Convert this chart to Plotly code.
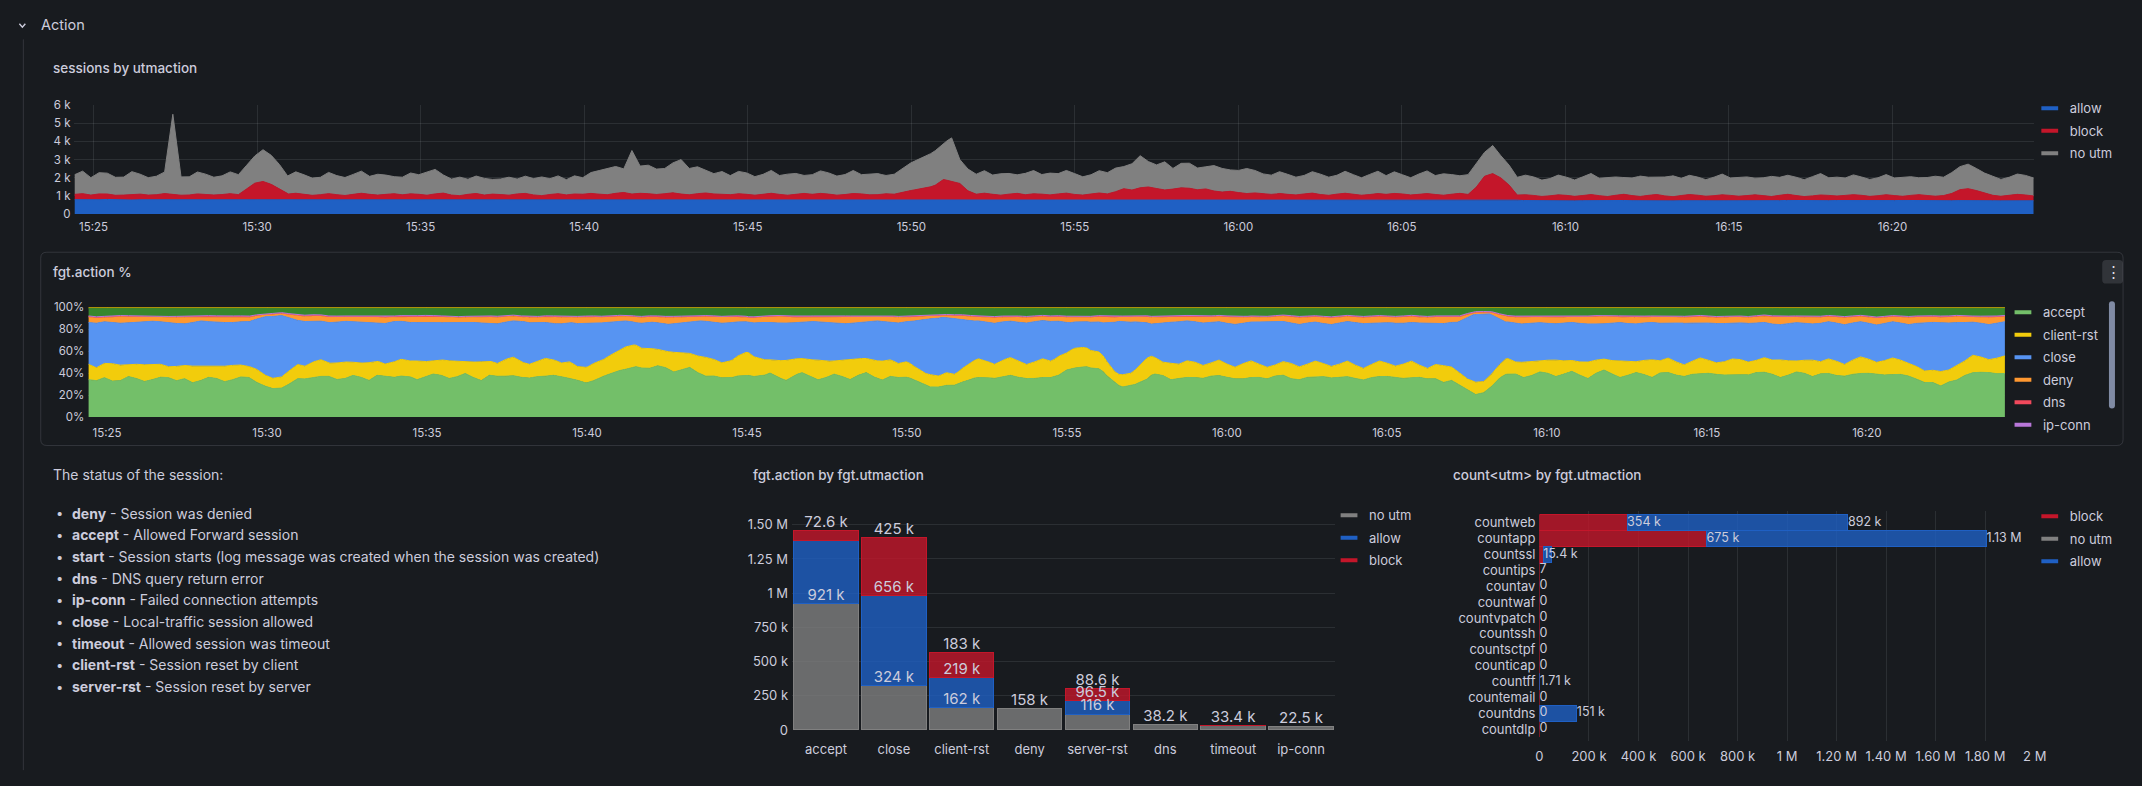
import numpy as np
import pandas as pd
import plotly.graph_objects as go

W, H = 2142, 786
BG = "#181b1f"
TXT = "#ccccdc"
GRID = "rgba(240,250,255,0.09)"
FONT = "Inter"

# ---------------- data: sessions by utmaction (counts) ----------------
t_start, t_end = "2024-05-14 15:24:25", "2024-05-14 16:24:19"
allow = [
    790, 770, 800, 760, 785, 775, 795, 770, 780, 790,
    765, 800, 780, 775, 790, 760, 785, 770, 795, 780,
    770, 790, 775, 760, 785, 770, 780, 795, 765, 780,
    775, 790, 770, 800, 785, 765, 790, 775, 780, 795,
    770, 785, 760, 790, 775, 800, 780, 770, 790, 765,
    785, 790, 780, 800, 775, 770, 790, 780, 765, 795,
    780, 775, 790, 770, 800, 790, 780, 795, 770, 785,
    790, 775, 780, 765, 790, 780, 775, 795, 770, 785,
    780, 790, 770, 785, 775, 780, 770, 800, 740, 725,
    735, 720, 740, 730, 745, 725, 735, 720, 740, 730,
    725, 740, 735, 720, 745, 730, 725, 740, 735, 720,
    730, 745, 725, 740, 730, 745, 735, 725, 740, 730]
block = [
    290, 340, 270, 320, 300, 250, 280, 330, 310, 260, 285, 340, 300, 250, 275, 330, 295, 260, 280, 340,
    300, 600, 900, 1000, 850, 600, 320, 360, 290, 250, 300, 350, 280, 240, 310, 360, 290, 250, 300, 340,
    285, 330, 295, 250, 330, 380, 280, 240, 300, 350, 270, 320, 290, 250, 310, 350, 280, 240, 295, 340,
    275, 320, 300, 350, 320, 280, 340, 390, 310, 360, 350, 300, 330, 380, 320, 280, 340, 370, 310, 270,
    290, 340, 300, 260, 320, 370, 295, 250, 305, 350, 290, 340, 310, 260, 300, 350, 320, 270, 295, 340,
    310, 420, 500, 580, 650, 800, 1100, 1000, 900, 500, 320, 370, 300, 250, 310, 360, 290, 340, 305, 260,
    320, 370, 300, 260, 315, 370, 330, 450, 600, 520, 650, 700, 620, 540, 580, 650, 640, 560, 600, 480,
    420, 460, 400, 350, 380, 330, 310, 360, 300, 260, 320, 370, 295, 250, 305, 350, 310, 260, 290, 340,
    300, 350, 315, 260, 305, 350, 295, 250, 310, 360, 300, 700, 1300, 1450, 1200, 800, 280, 320, 290, 240,
    270, 320, 300, 250, 285, 330, 275, 230, 290, 340, 280, 240, 295, 340, 270, 230, 285, 330, 300, 250,
    280, 330, 290, 240, 275, 320, 285, 240, 295, 340, 280, 230, 270, 320, 290, 250, 285, 330, 300, 250,
    280, 330, 275, 230, 290, 340, 285, 240, 280, 400, 600, 650, 550, 420, 300, 250, 290, 340, 310, 260]
no_utm = [
    1080, 1240, 960, 1170, 1150, 990, 990, 1230, 1100, 960, 1020, 1190, 4400, 1010, 1000, 1210, 1120, 980, 1030, 1200,
    1100, 1300, 1500, 1750, 1600, 1350, 1000, 1180, 1080, 950, 960, 1170, 1050, 990, 1100, 1220, 990, 1150, 1060, 940,
    970, 1150, 1080, 1260, 1350, 1000, 880, 1020, 830, 960, 920, 810, 860, 990, 820, 950, 900, 1030, 870, 980,
    840, 1000, 910, 1150, 1300, 1450, 1480, 1300, 2400, 1500, 1570, 1400, 1390, 1650, 1900, 1450, 1480, 1250, 1120, 1280,
    1050, 1230, 1180, 1020, 1100, 1260, 1040, 1160, 1150, 990, 1080, 1240, 1170, 1050, 1100, 1270, 1060, 1120, 1160, 1010,
    1100, 1300, 1520, 1650, 1770, 1900, 2000, 2400, 1320, 1200, 1100, 1240, 1060, 1180, 1140, 1020, 1180, 1280, 1080, 1200,
    1120, 1250, 1150, 1010, 1060, 1230, 1170, 1300, 1220, 1450, 1770, 1400, 1300, 1550, 1140, 1350, 1380, 1200, 1220, 1400,
    1300, 1180, 1220, 1380, 1240, 1100, 1060, 1200, 1100, 980, 1020, 1180, 1120, 1000, 1040, 1210, 1080, 960, 1110, 1230,
    1030, 1190, 1060, 950, 1120, 1250, 1040, 1180, 1080, 970, 1090, 1300, 1320, 1550, 1220, 1100, 980, 1080, 1020, 900,
    950, 1090, 1000, 900, 1030, 1160, 960, 1060, 1010, 920, 970, 1120, 1000, 940, 1040, 1150, 950, 1060, 1000, 910,
    1020, 1140, 960, 1050, 1030, 920, 980, 1110, 990, 1050, 1010, 930, 1060, 1180, 970, 1040, 960, 1090, 1010, 930,
    990, 1110, 970, 1040, 1030, 930, 990, 1100, 1010, 1150, 1270, 1350, 1220, 1100, 1050, 930, 1000, 1120, 1080, 990]
y1_ticks = [0, 1000, 2000, 3000, 4000, 5000, 6000]
y1_text = ["0", "1 k", "2 k", "3 k", "4 k", "5 k", "6 k"]

# ---------------- data: fgt.action % (shares) ----------------
accept = [
    34, 31, 36, 33, 33, 37, 35, 32, 34, 37, 36, 33, 35, 31, 33, 36, 35, 32, 34, 37,
    36, 32, 28, 25, 26, 30, 35, 33, 36, 39, 37, 34, 35, 38, 36, 33, 38, 35, 36, 39,
    37, 34, 36, 39, 38, 35, 37, 40, 36, 33, 38, 35, 37, 40, 36, 34, 37, 39, 38, 35,
    35, 32, 31, 34, 37, 40, 42, 45, 46, 42, 44, 47, 45, 41, 43, 46, 40, 37, 37, 34,
    36, 39, 38, 35, 37, 40, 36, 33, 38, 41, 37, 34, 36, 39, 37, 34, 38, 41, 36, 33,
    37, 34, 36, 33, 30, 27, 27, 30, 29, 33, 35, 38, 36, 33, 37, 40, 36, 33, 35, 38,
    36, 40, 44, 47, 46, 42, 43, 35, 30, 27, 29, 33, 36, 39, 37, 34, 35, 38, 36, 33,
    37, 40, 36, 33, 35, 38, 36, 33, 37, 40, 35, 32, 36, 39, 37, 34, 36, 39, 35, 32,
    36, 39, 37, 34, 35, 38, 36, 33, 35, 31, 33, 27, 23, 20, 22, 30, 38, 41, 39, 36,
    38, 41, 40, 37, 39, 42, 38, 35, 40, 43, 39, 36, 38, 41, 39, 36, 40, 43, 38, 35,
    39, 42, 40, 37, 38, 41, 39, 36, 40, 43, 39, 36, 38, 41, 40, 37, 39, 42, 38, 35,
    39, 42, 40, 37, 38, 41, 39, 35, 33, 30, 31, 28, 32, 36, 40, 43, 41, 38, 39, 42]
client_rst = [
    14, 11, 13, 16, 14, 11, 13, 15, 14, 12, 10, 13, 12, 15, 13, 10, 11, 14, 13, 11,
    10, 12, 10, 9, 10, 12, 13, 11, 14, 16, 12, 15, 15, 12, 13, 16, 13, 11, 14, 16,
    14, 17, 14, 12, 14, 16, 14, 11, 14, 17, 13, 11, 15, 18, 14, 12, 14, 17, 14, 12,
    15, 12, 14, 16, 15, 17, 18, 21, 20, 17, 18, 15, 15, 18, 15, 13, 15, 17, 15, 13,
    15, 19, 22, 17, 15, 12, 15, 18, 15, 13, 15, 18, 15, 12, 15, 18, 15, 13, 15, 17,
    15, 12, 14, 12, 10, 11, 10, 12, 10, 13, 15, 18, 15, 12, 15, 17, 15, 12, 15, 18,
    15, 18, 16, 19, 18, 15, 15, 12, 9, 11, 11, 16, 20, 15, 12, 15, 13, 16, 14, 11,
    12, 15, 12, 10, 14, 16, 12, 10, 10, 13, 14, 11, 12, 15, 12, 10, 12, 15, 12, 10,
    12, 15, 12, 10, 13, 16, 11, 9, 13, 15, 12, 11, 10, 11, 10, 12, 13, 15, 11, 14,
    13, 10, 12, 15, 12, 10, 12, 15, 12, 10, 12, 15, 12, 10, 13, 16, 11, 14, 12, 10,
    12, 15, 12, 10, 12, 15, 14, 11, 11, 14, 13, 16, 13, 10, 12, 15, 11, 14, 13, 10,
    13, 16, 13, 10, 13, 16, 13, 11, 11, 10, 11, 13, 11, 14, 14, 17, 14, 11, 14, 17]
close = [
    38, 38, 38, 38, 39, 40, 38, 41, 40, 39,
    41, 53, 56, 40, 37, 37, 37, 37, 34, 37,
    35, 35, 34, 36, 36, 34, 34, 37, 35, 33,
    36, 40, 34, 27, 20, 24, 25, 28, 32, 34,
    35, 27, 34, 34, 33, 35, 35, 33, 33, 36,
    34, 37, 49, 53, 50, 37, 35, 35, 35, 37,
    36, 26, 23, 28, 48, 46, 29, 37, 39, 36,
    37, 37, 37, 39, 39, 36, 38, 36, 38, 39,
    37, 37, 37, 39, 37, 42, 60, 61, 35, 35,
    35, 33, 35, 35, 32, 35, 35, 34, 34, 36,
    34, 34, 35, 33, 34, 32, 35, 33, 36, 34,
    34, 32, 35, 33, 42, 44, 42, 32, 30, 33]
deny = [
    5, 4, 6, 5, 4, 5, 6, 4, 5, 5,
    4, 2, 2, 4, 5, 5, 4, 5, 6, 4,
    5, 6, 5, 4, 5, 6, 5, 4, 5, 6,
    5, 6, 5, 4, 5, 5, 6, 5, 4, 5,
    5, 4, 5, 6, 5, 4, 5, 6, 5, 4,
    5, 4, 3, 2, 3, 4, 5, 4, 5, 4,
    4, 5, 4, 5, 4, 5, 6, 5, 4, 5,
    5, 6, 5, 4, 5, 6, 5, 6, 5, 5,
    6, 5, 6, 5, 6, 4, 2, 2, 5, 6,
    5, 6, 5, 6, 7, 5, 6, 5, 6, 5,
    6, 5, 6, 5, 6, 7, 5, 6, 5, 6,
    5, 6, 5, 6, 5, 5, 6, 5, 6, 5]
dns = [
    0.6, 0.5, 0.7, 0.6, 0.5, 0.6, 0.7, 0.5, 0.6, 0.6,
    0.5, 0.4, 0.4, 0.6, 0.7, 0.5, 0.6, 0.6, 0.5, 0.7,
    0.6, 0.5, 0.6, 0.7, 0.6, 0.5, 0.6, 0.6, 0.7, 0.5,
    0.6, 0.7, 0.5, 0.6, 0.6, 0.5, 0.7, 0.6, 0.5, 0.6,
    0.7, 0.6, 0.5, 0.6, 0.6, 0.7, 0.5, 0.6, 0.6, 0.5,
    0.6, 0.5, 0.4, 0.4, 0.5, 0.6, 0.7, 0.6, 0.5, 0.6,
    0.6, 0.7, 0.5, 0.6, 0.5, 0.6, 0.6, 0.7, 0.5, 0.6,
    0.5, 0.6, 0.7, 0.6, 0.5, 0.6, 0.6, 0.5, 0.7, 0.6,
    0.6, 0.5, 0.6, 0.7, 0.6, 0.5, 0.4, 0.4, 0.6, 0.7,
    0.5, 0.6, 0.6, 0.7, 0.5, 0.6, 0.6, 0.5, 0.7, 0.6,
    0.6, 0.7, 0.5, 0.6, 0.6, 0.5, 0.7, 0.6, 0.5, 0.6,
    0.7, 0.6, 0.5, 0.6, 0.6, 0.5, 0.6, 0.7, 0.6, 0.5]
ip_conn = [
    0.4, 0.5, 0.3, 0.4, 0.5, 0.4, 0.3, 0.5, 0.4, 0.4,
    0.5, 0.3, 0.3, 0.4, 0.4, 0.5, 0.3, 0.4, 0.5, 0.4,
    0.4, 0.3, 0.5, 0.4, 0.4, 0.5, 0.3, 0.4, 0.4, 0.5,
    0.3, 0.4, 0.5, 0.4, 0.3, 0.4, 0.5, 0.4, 0.4, 0.3,
    0.5, 0.4, 0.4, 0.3, 0.5, 0.4, 0.4, 0.5, 0.3, 0.4,
    0.4, 0.5, 0.3, 0.3, 0.4, 0.4, 0.3, 0.5, 0.4, 0.4,
    0.5, 0.4, 0.3, 0.4, 0.4, 0.5, 0.4, 0.3, 0.5, 0.4,
    0.4, 0.5, 0.4, 0.3, 0.4, 0.5, 0.4, 0.4, 0.3, 0.5,
    0.4, 0.3, 0.5, 0.4, 0.4, 0.5, 0.3, 0.3, 0.4, 0.5,
    0.4, 0.4, 0.3, 0.5, 0.4, 0.4, 0.5, 0.3, 0.4, 0.4,
    0.5, 0.4, 0.4, 0.3, 0.5, 0.4, 0.3, 0.4, 0.5, 0.4,
    0.4, 0.3, 0.5, 0.4, 0.4, 0.5, 0.4, 0.3, 0.4, 0.5]
server_rst = [
    7, 7.5, 6.5, 7, 7, 7.5, 7, 6.5, 7, 7,
    7, 5, 4, 6, 6, 7, 7, 7, 7, 7,
    7, 6.5, 7, 7.5, 7, 7, 6.5, 7, 7.5, 7,
    7, 7, 7.5, 6.5, 7, 7, 7.5, 7, 6.5, 7,
    7, 7.5, 7, 6.5, 7, 7, 7.5, 7, 7, 6.5,
    7, 7, 6, 6, 6, 7, 7, 7, 7, 7,
    7, 7.5, 7, 6.5, 7, 7, 7.5, 7, 7, 6.5,
    7, 7, 7.5, 7, 6.5, 7, 7, 7.5, 7, 7,
    7, 7, 7, 7, 7, 7, 3, 3, 7, 7,
    7, 7.5, 7, 7, 6.5, 7, 7.5, 7, 7, 7,
    7, 7, 7.5, 7, 6.5, 7, 7, 7.5, 7, 7,
    7, 7.5, 7, 7, 6.5, 7, 7, 7.5, 7, 7]
timeout = [
    1.0, 0.9, 1.1, 1.0, 0.8, 1.0, 1.2, 1.0, 0.9, 1.0,
    1.1, 0.9, 1.0, 1.0, 0.9, 1.1, 1.0, 0.8, 1.0, 1.1,
    1.0, 0.9, 1.0, 1.2, 1.0, 0.9, 1.1, 1.0, 1.0, 0.9,
    1.0, 1.1, 0.9, 1.0, 1.0, 0.8, 1.0, 1.1, 1.0, 0.9,
    1.1, 1.0, 0.9, 1.0, 1.2, 1.0, 0.9, 1.0, 1.1, 1.0,
    0.9, 1.0, 1.1, 1.0, 0.9, 1.0, 1.0, 1.2, 1.0, 0.9,
    1.0, 1.1, 1.0, 0.9, 1.0, 1.0, 0.8, 1.0, 1.1, 1.0,
    1.0, 0.9, 1.1, 1.0, 1.0, 0.9, 1.2, 1.0, 0.9, 1.0,
    1.1, 1.0, 0.9, 1.0, 1.0, 1.1, 1.0, 0.9, 1.0, 1.2,
    1.0, 0.9, 1.0, 1.1, 1.0, 0.9, 1.0, 1.0, 1.1, 0.9,
    1.0, 1.1, 0.9, 1.0, 1.0, 1.2, 1.0, 0.9, 1.0, 1.1,
    0.9, 1.0, 1.1, 1.0, 0.9, 1.0, 1.0, 1.1, 0.9, 1.0]
y2_ticks = [0, 20, 40, 60, 80, 100]
y2_text = ["0%", "20%", "40%", "60%", "80%", "100%"]

# ---------------- data: fgt.action by fgt.utmaction ----------------
bar_cats = ["accept", "close", "client-rst", "deny", "server-rst", "dns", "timeout", "ip-conn"]
bar_no_utm = [921000, 324000, 162000, 158000, 116000, 38200, 33400, 22500]
bar_allow = [462000, 656000, 219000, 0, 96500, 0, 0, 0]
bar_block = [72600, 425000, 183000, 0, 88600, 0, 2500, 0]
bar_no_utm_lbl = ["921 k", "324 k", "162 k", "158 k", "116 k", "38.2 k", "33.4 k", "22.5 k"]
bar_allow_lbl = ["", "656 k", "219 k", "", "96.5 k", "", "", ""]
bar_block_lbl = ["72.6 k", "425 k", "183 k", "", "88.6 k", "", "", ""]
y3_ticks = [0, 250000, 500000, 750000, 1000000, 1250000, 1500000]
y3_text = ["0", "250 k", "500 k", "750 k", "1 M", "1.25 M", "1.50 M"]

# ---------------- data: count<utm> by fgt.utmaction ----------------
h_cats = ["countweb", "countapp", "countssl", "countips", "countav", "countwaf", "countvpatch",
          "countssh", "countsctpf", "counticap", "countff", "countemail", "countdns", "countdlp"]
h_block = [354000, 675000, 15400, 7, 0, 0, 0, 0, 0, 0, 0, 0, 0, 0]
h_no_utm = [0, 0, 0, 0, 0, 0, 0, 0, 0, 0, 0, 0, 0, 0]
h_allow = [892000, 1130000, 33000, 0, 0, 0, 0, 0, 0, 0, 1710, 0, 151000, 0]
h_block_lbl = ["354 k", "675 k", "15.4 k", "7", "0", "0", "0", "0", "0", "0", "", "0", "0", "0"]
h_allow_lbl = ["892 k", "1.13 M", "", "", "", "", "", "", "", "", "1.71 k", "", "151 k", ""]
x4_ticks = [0, 200000, 400000, 600000, 800000, 1000000, 1200000, 1400000, 1600000, 1800000, 2000000]
x4_text = ["0", "200 k", "400 k", "600 k", "800 k", "1 M", "1.20 M", "1.40 M", "1.60 M", "1.80 M", "2 M"]

# ---------------- text panel ----------------
status_items = [
    ("deny", "Session was denied"),
    ("accept", "Allowed Forward session"),
    ("start", "Session starts (log message was created when the session was created)"),
    ("dns", "DNS query return error"),
    ("ip-conn", "Failed connection attempts"),
    ("close", "Local-traffic session allowed"),
    ("timeout", "Allowed session was timeout"),
    ("client-rst", "Session reset by client"),
    ("server-rst", "Session reset by server"),
]

C_ALLOW, C_BLOCK, C_NOUTM = "#1F60C4", "#C4162A", "#808080"
B_ALLOW, B_BLOCK, B_NOUTM = "rgba(31,96,196,0.8)", "rgba(196,22,42,0.8)", "rgba(128,128,128,0.8)"
P2_COLORS = {"accept": "#73BF69", "client-rst": "#F2CC0C", "close": "#5794F2", "deny": "#FF9830",
             "dns": "#F2495C", "ip-conn": "#B877D9", "server-rst": "#37872D", "timeout": "#E0B400"}


def fx(px):
    return px / W


def fy(py):
    return 1 - py / H


def grid(vals):
    return pd.date_range(t_start, t_end, periods=len(vals))


fig = go.Figure()

# panel 1
for k, (name, vals, col) in enumerate([("allow", allow, C_ALLOW), ("block", block, C_BLOCK),
                                       ("no utm", no_utm, C_NOUTM)]):
    kw = dict(stackgaps="interpolate") if k == 0 else {}
    fig.add_trace(go.Scatter(x=grid(vals), y=vals, name=name, stackgroup="s1", mode="lines",
                             line=dict(width=1, color=col), fillcolor=col, showlegend=False,
                             xaxis="x", yaxis="y", **kw))

# panel 2
p2 = [("accept", accept), ("client-rst", client_rst), ("close", close), ("deny", deny),
      ("dns", dns), ("ip-conn", ip_conn), ("server-rst", server_rst), ("timeout", timeout)]
for k, (name, vals) in enumerate(p2):
    col = P2_COLORS[name]
    kw = dict(groupnorm="percent", stackgaps="interpolate") if k == 0 else {}
    fig.add_trace(go.Scatter(x=grid(vals), y=vals, name=name, stackgroup="s2", mode="lines",
                             line=dict(width=1, color=col), fillcolor=col, showlegend=False,
                             xaxis="x2", yaxis="y2", **kw))


def lw(vals):
    return [1 if v > 0 else 0 for v in vals]


# panel 3 (vertical stacked bars)
for name, vals, col, lc in [("no utm", bar_no_utm, B_NOUTM, C_NOUTM), ("allow", bar_allow, B_ALLOW, C_ALLOW),
                            ("block", bar_block, B_BLOCK, C_BLOCK)]:
    fig.add_trace(go.Bar(x=bar_cats, y=vals, name=name,
                         marker=dict(color=col, line=dict(width=lw(vals), color=lc)),
                         width=0.95, showlegend=False, xaxis="x3", yaxis="y3"))
c1 = np.array(bar_no_utm, dtype=float)
c2 = c1 + np.array(bar_allow)
c3 = c2 + np.array(bar_block)
for cum, lbl in [(c1, bar_no_utm_lbl), (c2, bar_allow_lbl), (c3, bar_block_lbl)]:
    keep = [i for i, s in enumerate(lbl) if s]
    fig.add_trace(go.Scatter(x=[bar_cats[i] for i in keep], y=cum[keep], text=[lbl[i] for i in keep],
                             mode="text", textposition="top center",
                             textfont=dict(size=15, color=TXT, family=FONT), showlegend=False,
                             cliponaxis=False, xaxis="x3", yaxis="y3"))

# panel 4 (horizontal stacked bars)
for name, vals, col, lc, wid in [("block", h_block, B_BLOCK, C_BLOCK, [1] * len(h_block)),
                                 ("no utm", h_no_utm, B_NOUTM, C_NOUTM, lw(h_no_utm)),
                                 ("allow", h_allow, B_ALLOW, C_ALLOW, lw(h_allow))]:
    fig.add_trace(go.Bar(y=h_cats, x=vals, name=name, orientation="h",
                         marker=dict(color=col, line=dict(width=wid, color=lc)),
                         width=1.0, showlegend=False, xaxis="x4", yaxis="y4"))
h1 = np.array(h_block, dtype=float)
h2 = h1 + np.array(h_no_utm)
h3 = h2 + np.array(h_allow)
for cum, lbl in [(h1, h_block_lbl), (h3, h_allow_lbl)]:
    keep = [i for i, s in enumerate(lbl) if s]
    fig.add_trace(go.Scatter(y=[h_cats[i] for i in keep], x=cum[keep], text=[lbl[i] for i in keep],
                             mode="text", textposition="middle right",
                             textfont=dict(size=12.5, color=TXT, family=FONT), showlegend=False,
                             cliponaxis=False, xaxis="x4", yaxis="y4"))


# legend swatches
def swatch(name, col, legend, xa, ya):
    fig.add_trace(go.Scatter(x=[None], y=[None], mode="markers", name=name, legend=legend,
                             legendgroup=legend + name,
                             marker=dict(symbol="line-ew", size=12, color=col, line=dict(width=4, color=col)),
                             xaxis=xa, yaxis=ya, showlegend=True))


for n, c in [("allow", C_ALLOW), ("block", C_BLOCK), ("no utm", C_NOUTM)]:
    swatch(n, c, "legend", "x", "y")
for n, _ in p2:
    swatch(n, P2_COLORS[n], "legend2", "x2", "y2")
for n, c in [("no utm", C_NOUTM), ("allow", C_ALLOW), ("block", C_BLOCK)]:
    swatch(n, c, "legend3", "x3", "y3")
for n, c in [("block", C_BLOCK), ("no utm", C_NOUTM), ("allow", C_ALLOW)]:
    swatch(n, c, "legend4", "x4", "y4")

tickf = dict(size=11.5, color=TXT, family=FONT)
tickf2 = dict(size=13, color=TXT, family=FONT)
xdate = dict(type="date", range=[t_start, t_end], tickformat="%H:%M", dtick=300000,
             tick0="2024-05-14 15:25:00", gridcolor=GRID, showline=False, zeroline=False,
             tickfont=tickf, ticks="", fixedrange=True)

leg = dict(bgcolor="rgba(0,0,0,0)", font=dict(size=13, color=TXT, family=FONT), xanchor="left",
           yanchor="top", tracegroupgap=2.6, itemclick=False)

fig.update_layout(
    width=W, height=H, margin=dict(l=0, r=0, t=0, b=0),
    paper_bgcolor=BG, plot_bgcolor=BG, font=dict(family=FONT, color=TXT),
    hovermode=False, barmode="stack",
    xaxis=dict(domain=[fx(71), fx(2045)], anchor="y", ticklabelstandoff=5, **xdate),
    yaxis=dict(domain=[fy(211), fy(100)], anchor="x", range=[0, 6000], tickvals=y1_ticks, ticktext=y1_text,
               gridcolor=GRID, zeroline=False, showline=False, tickfont=tickf, ticks="", ticklabelstandoff=3),
    xaxis2=dict(domain=[fx(85), fx(2016)], anchor="y2", ticklabelstandoff=7, **xdate),
    yaxis2=dict(domain=[fy(418), fy(306)], anchor="x2", range=[0, 100], tickvals=y2_ticks, ticktext=y2_text,
                gridcolor=GRID, zeroline=False, showline=False, tickfont=tickf, ticks="", ticklabelstandoff=3),
    xaxis3=dict(domain=[fx(794), fx(1341)], anchor="y3", type="category", showgrid=False, zeroline=False,
                showline=False, tickfont=tickf2, ticks="", ticklabelstandoff=10),
    yaxis3=dict(domain=[fy(737), fy(500)], anchor="x3", range=[0, 1700000], tickvals=y3_ticks, ticktext=y3_text,
                gridcolor=GRID, zeroline=False, showline=False, tickfont=tickf2, ticks="", ticklabelstandoff=3),
    xaxis4=dict(domain=[fx(1547), fx(2046)], anchor="y4", range=[0, 2000000], tickvals=x4_ticks, ticktext=x4_text,
                gridcolor=GRID, zeroline=False, showline=False, tickfont=tickf2, ticks="", ticklabelstandoff=6),
    yaxis4=dict(domain=[fy(748), fy(514)], anchor="x4", type="category", categoryorder="array",
                categoryarray=h_cats, tickmode="array", tickvals=h_cats, autorange="reversed",
                showgrid=False, zeroline=False, showline=False, tickfont=tickf2, ticks="", ticklabelstandoff=3),
    legend=dict(x=fx(2041), y=fy(88), **leg),
    legend2=dict(x=fx(2014), y=fy(296), maxheight=142, entrywidth=74, **leg),
    legend3=dict(x=fx(1335), y=fy(503), **leg),
    legend4=dict(x=fx(2041), y=fy(504), **leg),
)

ann = []


def text(x, y, s, size=14, weight=400, anchor="left", color=TXT):
    ann.append(dict(x=fx(x), y=fy(y), xref="paper", yref="paper", text=s, showarrow=False,
                    xanchor=anchor, yanchor="middle", font=dict(size=size, color=color, family=FONT, weight=weight)))


text(35, 18, "Action", size=14.5)
text(47, 62, "sessions by utmaction", size=13.5, weight=500)
text(47, 270, "fgt.action %", size=13.5, weight=500)
text(753, 477, "fgt.action by fgt.utmaction", size=13.5, weight=500)
text(1458, 477, "count&lt;utm&gt; by fgt.utmaction", size=13.5, weight=500)
text(47, 477, "The status of the session:", size=14)
for k, (name, desc) in enumerate(status_items):
    yy = 516 + 22.1 * k
    text(50, yy, "•", size=13)
    text(66, yy, "<b>" + name + "</b> - " + desc, size=14)
text(2125, 270, "⋮", size=15, anchor="center", color="#e0e0e8")
fig.update_layout(annotations=ann)


def rrect(x0, y0, x1, y1, r):
    rx, ry = r / W, r / H
    X0, X1, Y0, Y1 = fx(x0), fx(x1), fy(y0), fy(y1)
    return (f"M{X0 + rx},{Y0} L{X1 - rx},{Y0} Q{X1},{Y0} {X1},{Y0 - ry} L{X1},{Y1 + ry} Q{X1},{Y1} {X1 - rx},{Y1} "
            f"L{X0 + rx},{Y1} Q{X0},{Y1} {X0},{Y1 + ry} L{X0},{Y0 - ry} Q{X0},{Y0} {X0 + rx},{Y0} Z")


shapes = [
    dict(type="line", xref="paper", yref="paper", x0=fx(19.5), x1=fx(19.5), y0=fy(33), y1=fy(778),
         line=dict(color="rgba(204,204,220,0.15)", width=1)),
    dict(type="path", xref="paper", yref="paper", path=rrect(37, 250, 2135, 447, 6),
         line=dict(color="rgba(204,204,220,0.15)", width=1), fillcolor="rgba(0,0,0,0)", layer="below"),
    dict(type="path", xref="paper", yref="paper", path=rrect(2114, 258, 2135, 282, 4),
         line=dict(width=0), fillcolor="rgba(204,204,220,0.14)"),
    dict(type="path", xref="paper", yref="paper",
         path=f"M{fx(15.5)},{fy(17)} L{fx(18.5)},{fy(20.5)} L{fx(21.5)},{fy(17)}",
         line=dict(color=TXT, width=1.4)),
]
fig.update_layout(shapes=shapes)

fig.write_html("out.html")
